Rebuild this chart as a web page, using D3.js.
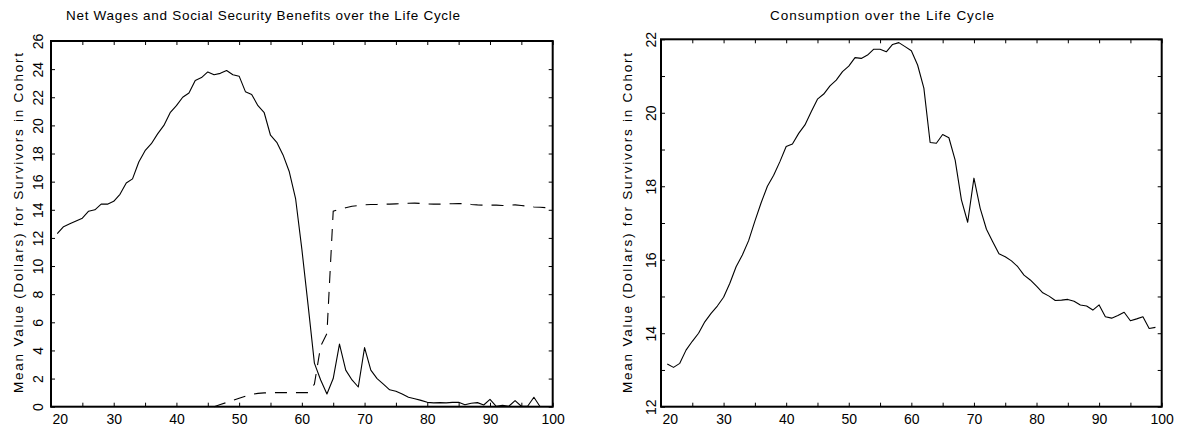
<!DOCTYPE html>
<html>
<head>
<meta charset="utf-8">
<script src="https://cdn.jsdelivr.net/npm/d3@7"></script>
<style>
  html, body { margin: 0; padding: 0; background: #fff; }
  svg { display: block; }
  text { font-family: "Liberation Sans", Arial, sans-serif; fill: #000; }
</style>
</head>
<body>
<svg id="chart" width="1177" height="429"></svg>
<script>
// ---------- DATA ----------
const leftTitle = "Net Wages and Social Security Benefits over the Life Cycle";
const rightTitle = "Consumption over the Life Cycle";
const yLabel = "Mean Value (Dollars) for Survivors in Cohort";

const xTicks = [20, 30, 40, 50, 60, 70, 80, 90, 100];
const xMinorTicks = [20, 25, 30, 35, 40, 45, 50, 55, 60, 65, 70, 75, 80, 85, 90, 95, 100];
const leftYTicks = [0, 2, 4, 6, 8, 10, 12, 14, 16, 18, 20, 22, 24, 26];
const rightYTicks = [12, 13, 14, 15, 16, 17, 18, 19, 20, 21, 22];
const rightYLabels = [12, 14, 16, 18, 20, 22];

const wageAges = [21,22,23,24,25,26,27,28,29,30,31,32,33,34,35,36,37,38,39,40,
  41,42,43,44,45,46,47,48,49,50,51,52,53,54,55,56,57,58,59,60,
  61,62,63,64,65,66,67,68,69,70,71,72,73,74,75,76,77,78,79,80,
  81,82,83,84,85,86,87,88,89,90,91,92,93,94,95,96,97,98];
const netWages = [12.3,12.8,13.0,13.2,13.4,13.9,14.0,14.4,14.4,14.6,15.1,15.9,16.2,17.4,18.2,18.7,19.4,20.0,20.9,21.4,
  22.0,22.3,23.2,23.4,23.8,23.6,23.7,23.9,23.6,23.5,22.4,22.2,21.4,20.9,19.3,18.8,17.9,16.7,14.8,11.2,
  7.2,3.1,1.9,0.9,2.0,4.45,2.6,1.9,1.4,4.2,2.6,2.0,1.6,1.2,1.1,0.9,0.67,0.57,0.45,0.31,
  0.27,0.29,0.27,0.31,0.31,0.14,0.24,0.29,0.12,0.52,0.03,0.1,0.03,0.43,0.03,0.03,0.67,0.0];

const ssAges = [46,47,48,49,50,51,52,53,54,55,56,57,58,59,60,
  61,62,63,64,65,66,67,68,69,70,71,72,73,74,75,76,77,78,79,80,
  81,82,83,84,85,86,87,88,89,90,91,92,93,94,95,96,97,98,99];
const ssBenefits = [0,0.15,0.3,0.45,0.6,0.75,0.88,0.95,0.98,1.0,1.0,1.0,1.0,1.0,1.0,
  1.0,1.6,4.3,5.2,13.9,14.05,14.15,14.25,14.3,14.35,14.38,14.38,14.4,14.4,14.42,14.44,14.46,14.47,14.45,14.42,
  14.4,14.4,14.42,14.43,14.45,14.42,14.38,14.35,14.33,14.33,14.33,14.3,14.33,14.35,14.3,14.25,14.2,14.18,14.15];

const consAges = [21,22,23,24,25,26,27,28,29,30,31,32,33,34,35,36,37,38,39,40,
  41,42,43,44,45,46,47,48,49,50,51,52,53,54,55,56,57,58,59,60,
  61,62,63,64,65,66,67,68,69,70,71,72,73,74,75,76,77,78,79,80,
  81,82,83,84,85,86,87,88,89,90,91,92,93,94,95,96,97,98,99];
const consumption = [13.16,13.07,13.18,13.54,13.78,14.0,14.31,14.54,14.74,14.98,15.36,15.81,16.13,16.52,17.05,17.55,18.0,18.3,18.67,19.08,
  19.15,19.44,19.67,20.03,20.37,20.51,20.73,20.89,21.12,21.27,21.5,21.48,21.57,21.73,21.73,21.66,21.86,21.91,21.8,21.69,
  21.3,20.67,19.19,19.17,19.41,19.32,18.71,17.63,17.02,18.22,17.4,16.83,16.49,16.16,16.08,15.97,15.81,15.58,15.45,15.28,
  15.1,15.01,14.89,14.9,14.92,14.87,14.77,14.74,14.63,14.77,14.45,14.41,14.48,14.57,14.34,14.39,14.45,14.13,14.16];

// ---------- LAYOUT ----------
const svg = d3.select("#chart");

function panel(cfg) {
  const x = d3.scaleLinear().domain([20, 100]).range([cfg.left, cfg.right]);
  const y = d3.scaleLinear().domain(cfg.yDomain).range([cfg.bottom, cfg.top]);
  const g = svg.append("g");

  // bottom axis (ticks inside) with labels
  const bx = g.append("g")
    .attr("transform", `translate(0,${cfg.bottom})`)
    .call(d3.axisBottom(x).tickValues(xMinorTicks).tickSize(-4).tickPadding(7)
      .tickFormat(d => xTicks.includes(d) ? d : ""));
  bx.select(".domain").remove();
  bx.selectAll("line").attr("stroke", "#000").attr("stroke-width", 1);
  bx.selectAll("text").attr("font-size", 14).attr("font-family", "Liberation Sans, Arial, sans-serif")
    .attr("fill", "#111")
    .filter(d => d === 20).attr("text-anchor", "start").attr("x", 1);

  // top axis ticks
  const tx = g.append("g")
    .attr("transform", `translate(0,${cfg.top})`)
    .call(d3.axisTop(x).tickValues(xMinorTicks).tickSize(-4).tickFormat(""));
  tx.select(".domain").remove();
  tx.selectAll("line").attr("stroke", "#000");

  // left axis
  const ly = g.append("g")
    .attr("transform", `translate(${cfg.left},0)`)
    .call(d3.axisLeft(y).tickValues(cfg.yTicks).tickSize(-4)
      .tickFormat(d => cfg.yLabels.includes(d) ? d : ""));
  ly.select(".domain").remove();
  ly.selectAll("line").attr("stroke", "#000");
  ly.selectAll("text")
    .attr("x", 0).attr("y", 0).attr("dy", "0.35em")
    .attr("text-anchor", "middle")
    .attr("fill", "#111")
    .attr("font-size", 14).attr("font-family", "Liberation Sans, Arial, sans-serif")
    .attr("transform", `translate(${cfg.yLabOff},0) rotate(-90)`);

  // right axis ticks
  const ry = g.append("g")
    .attr("transform", `translate(${cfg.right},0)`)
    .call(d3.axisRight(y).tickValues(cfg.yTicks).tickSize(-4).tickFormat(""));
  ry.select(".domain").remove();
  ry.selectAll("line").attr("stroke", "#000");

  // frame
  g.append("rect")
    .attr("x", cfg.left).attr("y", cfg.top)
    .attr("width", cfg.right - cfg.left).attr("height", cfg.bottom - cfg.top)
    .attr("fill", "none").attr("stroke", "#000").attr("stroke-width", 2);

  // title
  g.append("text")
    .attr("x", cfg.titleX).attr("y", 20)
    .attr("text-anchor", "middle")
    .attr("font-size", 13.5)
    .attr("fill", "#111")
    .attr("textLength", cfg.titleLen).attr("lengthAdjust", "spacing")
    .text(cfg.title);

  // y label
  g.append("text")
    .attr("transform", `translate(${cfg.yLabelX},223) rotate(-90)`)
    .attr("text-anchor", "middle").attr("dy", "0.35em")
    .attr("font-size", 13.5)
    .attr("fill", "#111")
    .attr("textLength", 340).attr("lengthAdjust", "spacing")
    .text(yLabel);

  return { g, x, y };
}

// Left panel
const L = panel({
  left: 51, right: 552.7, top: 41, bottom: 406.7,
  yDomain: [0, 26], yTicks: leftYTicks, yLabels: leftYTicks, yLabOff: -13,
  title: leftTitle, titleX: 263, titleLen: 394, yLabelX: 18
});
const lineL = d3.line().x(d => L.x(d[0])).y(d => L.y(d[1]));
L.g.append("path")
  .datum(d3.zip(wageAges, netWages))
  .attr("d", lineL).attr("fill", "none").attr("stroke", "#000").attr("stroke-width", 1.1)
  .attr("stroke-linejoin", "round");
L.g.append("path")
  .datum(d3.zip(ssAges, ssBenefits))
  .attr("d", lineL).attr("fill", "none").attr("stroke", "#000").attr("stroke-width", 1.1)
  .attr("stroke-dasharray", "12,9");

// Right panel
const R = panel({
  left: 661, right: 1161.7, top: 39.3, bottom: 406.7,
  yDomain: [12, 22], yTicks: rightYTicks, yLabels: rightYLabels, yLabOff: -9.5,
  title: rightTitle, titleX: 882, titleLen: 224, yLabelX: 627
});
const lineR = d3.line().x(d => R.x(d[0])).y(d => R.y(d[1]));
R.g.append("path")
  .datum(d3.zip(consAges, consumption))
  .attr("d", lineR).attr("fill", "none").attr("stroke", "#000").attr("stroke-width", 1.1)
  .attr("stroke-linejoin", "round");
</script>
</body>
</html>
